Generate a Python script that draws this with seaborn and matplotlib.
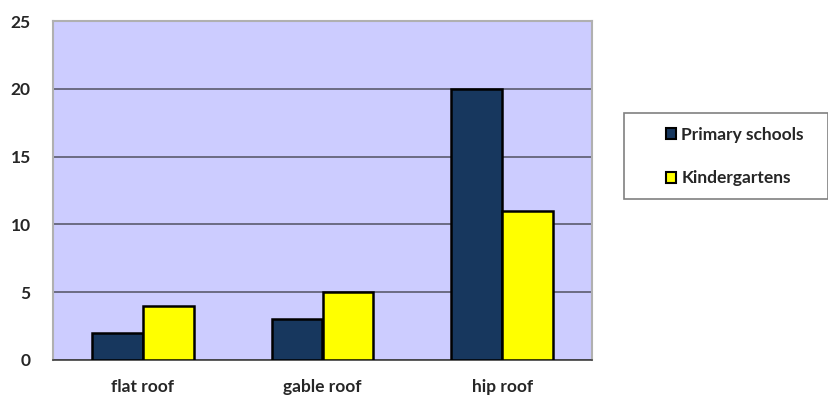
import pandas as pd
import seaborn as sns
import matplotlib.pyplot as plt
from matplotlib.patches import Patch, Rectangle

# Roof types vs number of schools
roof_types = ['flat roof', 'gable roof', 'hip roof']
primary_schools = [2, 3, 20]
kindergartens = [4, 5, 11]
series_names = ['Primary schools', 'Kindergartens']

df = pd.DataFrame({
    'roof': roof_types * 2,
    'count': primary_schools + kindergartens,
    'type': [series_names[0]] * 3 + [series_names[1]] * 3,
})

sns.set_theme(style='white')
plt.rcParams['font.family'] = ['Lato', 'DejaVu Sans']

colors = ['#17375E', '#FFFF00']
W, H = 829, 398

fig = plt.figure(figsize=(8.29, 3.98), dpi=100)
ax = fig.add_axes([53 / W, 1 - 360 / H, 539 / W, 339 / H])
ax.set_facecolor('#CCCCFF')

sns.barplot(data=df, x='roof', y='count', hue='type', palette=colors,
            saturation=1, width=0.567, edgecolor='black', linewidth=1.8,
            ax=ax, legend=False, zorder=3)

ax.set_ylim(0, 25)
ax.set_yticks(range(0, 26, 5))
ax.yaxis.grid(True, color='#5a5a6e', linewidth=1.2, zorder=1)
ax.set_axisbelow(True)
ax.set_xlabel('')
ax.set_ylabel('')
ax.tick_params(axis='both', length=0, labelsize=12.5)
ax.tick_params(axis='y', pad=16)
ax.tick_params(axis='x', pad=14)
for lbl in ax.get_xticklabels() + ax.get_yticklabels():
    lbl.set_fontweight('bold')

for side in ['top', 'right', 'left']:
    ax.spines[side].set_color('#b0b0b0')
    ax.spines[side].set_linewidth(1.5)
ax.spines['bottom'].set_color('#404040')
ax.spines['bottom'].set_linewidth(1.2)

# legend frame drawn separately so the padding can match
fig.patches.append(Rectangle((624 / W, 1 - 199 / H), 204 / W, 86 / H,
                             transform=fig.transFigure, facecolor='white',
                             edgecolor='#808080', linewidth=1.2))
handles = [Patch(facecolor=c, edgecolor='black', linewidth=1.5) for c in colors]
leg = fig.legend(handles, series_names, loc='upper left',
                 bbox_to_anchor=(657 / W, 1 - 118 / H), frameon=False,
                 handlelength=0.6, handleheight=0.6, handletextpad=0.3,
                 labelspacing=1.6, borderpad=0,
                 prop={'weight': 'bold', 'size': 12.5})

fig.savefig('out.png', dpi=100)
